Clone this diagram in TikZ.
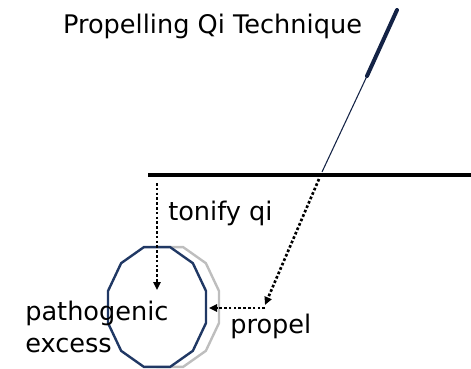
\documentclass[tikz,border=0pt]{standalone}
\usepackage{fontspec}
\setmainfont{DejaVu Sans}
\usetikzlibrary{arrows.meta,positioning,calc}

\definecolor{needleblue}{RGB}{20,35,70}
\definecolor{excessblue}{RGB}{32,56,100}
\definecolor{shadowgray}{RGB}{190,190,190}

\begin{document}
\begin{tikzpicture}[x=0.75pt,y=-0.75pt,>=Stealth,
  lbl/.style={inner sep=0pt,font=\fontsize{19.2}{22}\selectfont},
  qiflow/.style={line width=2pt,dash pattern=on 2pt off 1.6pt,-{Triangle[length=6pt,width=5.5pt]}},
  poly/.style={line width=1.8pt,line join=miter}]
\useasboundingbox (0,0) rectangle (471,368);
% title and skin line
\node[lbl,anchor=base] (title) at (212.5,33) {Propelling Qi Technique};
\draw[line width=3pt] (148,175) coordinate (skinL) -- (471,175) coordinate (skinR);
% needle: handle then fine shaft
\coordinate (tip) at (322,172);
\coordinate (mid) at (367,76);
\coordinate (top) at (397,10);
\draw[needleblue,line width=0.8pt] (tip) -- (mid);
\draw[needleblue,line width=3pt,line cap=round] (mid) -- (top);
% pathogenic excess and its shifted outline
\coordinate (ctr) at (157,307);
\coordinate (ctrshift) at (170,307);
\draw[poly,shadowgray] ($(ctrshift)+(15:50.7 and 62)$)
  \foreach \a in {45,75,...,345} {-- ($(ctrshift)+(\a:50.7 and 62)$)} -- cycle;
\draw[poly,excessblue,fill=white] ($(ctr)+(15:50.7 and 62)$)
  \foreach \a in {45,75,...,345} {-- ($(ctr)+(\a:50.7 and 62)$)} -- cycle;
% labels
\node[lbl,anchor=base west] (tonify) at (168,220) {tonify qi};
\node[lbl,anchor=base west] (excess) at (25,320) {pathogenic};
\node[lbl,anchor=base west] (excess2) at (25,352) {excess};
\node[lbl,anchor=base west] (propel) at (230,333) {propel};
% qi flows
\coordinate (tonS) at (157,183);
\coordinate (tonE) at (157,290);
\coordinate (propS) at (319,179);
\coordinate (propC) at (265,305);
\coordinate (propE) at (209,308);
\draw[qiflow] (tonS) -- (tonE);
\draw[qiflow] (propS) -- (propC);
\draw[qiflow] (propC |- propE) -- (propE);
\end{tikzpicture}
\end{document}
